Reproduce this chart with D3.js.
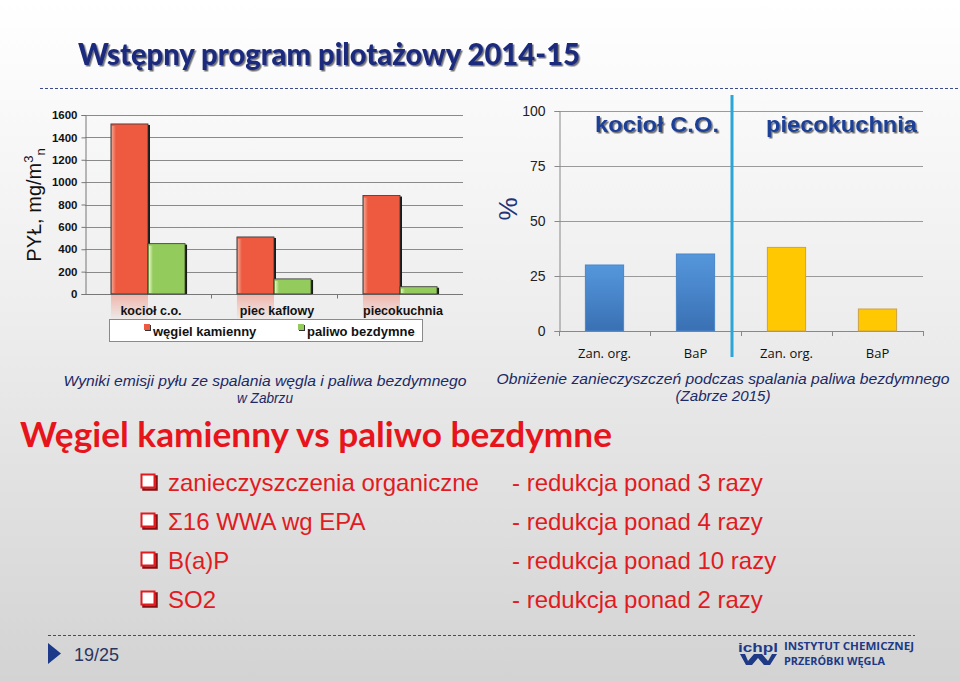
<!DOCTYPE html>
<html><head><meta charset="utf-8">
<script src="https://cdn.jsdelivr.net/npm/d3@7"></script>
<style>html,body{margin:0;padding:0;background:#fff}svg{display:block}</style>
</head><body>
<script>
// ---------- DATA ----------
const categoriesL = ["kocioł c.o.", "piec kaflowy", "piecokuchnia"];
const seriesL = ["węgiel kamienny", "paliwo bezdymne"];
const coalDust = [1520, 510, 880];
const smokelessDust = [450, 135, 65];
const ticksL = [0, 200, 400, 600, 800, 1000, 1200, 1400, 1600];

const categoriesR = ["Zan. org.", "BaP", "Zan. org.", "BaP"];
const groupsR = ["kocioł C.O.", "piecokuchnia"];
const reductionR = [30, 35, 38, 10];
const groupOfBarR = [0, 0, 1, 1];
const ticksR = [0, 25, 50, 75, 100];

const bulletItems = ["zanieczyszczenia organiczne", "Σ16 WWA wg EPA", "B(a)P", "SO2"];
const bulletResults = ["- redukcja ponad 3 razy", "- redukcja ponad 4 razy", "- redukcja ponad 10 razy", "- redukcja ponad 2 razy"];

// ---------- SVG ----------
const W = 960, H = 681;
const svg = d3.select("body").append("svg").attr("width", W).attr("height", H);
const defs = svg.append("defs");

const bg = defs.append("linearGradient").attr("id", "bg").attr("x1", 0).attr("y1", 0).attr("x2", 0).attr("y2", 1);
bg.append("stop").attr("offset", "0%").attr("stop-color", "#ffffff");
bg.append("stop").attr("offset", "45%").attr("stop-color", "#eeeeee");
bg.append("stop").attr("offset", "100%").attr("stop-color", "#d3d3d3");
svg.append("rect").attr("width", W).attr("height", H).attr("fill", "url(#bg)");

const shadow = defs.append("filter").attr("id", "shadow").attr("x", "-5%").attr("y", "-20%").attr("width", "115%").attr("height", "150%");
shadow.append("feDropShadow").attr("dx", 1.5).attr("dy", 1.5).attr("stdDeviation", 0.6)
  .attr("flood-color", "#000").attr("flood-opacity", 0.55);

const blueG = defs.append("linearGradient").attr("id", "blueG").attr("x1", 0).attr("y1", 0).attr("x2", 0).attr("y2", 1);
blueG.append("stop").attr("offset", "0%").attr("stop-color", "#5597dc");
blueG.append("stop").attr("offset", "100%").attr("stop-color", "#3a70b4");

const reflG = defs.append("linearGradient").attr("id", "reflG").attr("x1", 0).attr("y1", 0).attr("x2", 0).attr("y2", 1);
reflG.append("stop").attr("offset", "0%").attr("stop-color", "#f08a78").attr("stop-opacity", 0.55);
reflG.append("stop").attr("offset", "100%").attr("stop-color", "#f08a78").attr("stop-opacity", 0);

const redHi = defs.append("linearGradient").attr("id", "redHi").attr("x1", 0).attr("y1", 0).attr("x2", 1).attr("y2", 0);
redHi.append("stop").attr("offset", "0%").attr("stop-color", "#f4a08c");
redHi.append("stop").attr("offset", "100%").attr("stop-color", "#ee5a40");
const greenHi = defs.append("linearGradient").attr("id", "greenHi").attr("x1", 0).attr("y1", 0).attr("x2", 1).attr("y2", 0);
greenHi.append("stop").attr("offset", "0%").attr("stop-color", "#e4f5c0");
greenHi.append("stop").attr("offset", "100%").attr("stop-color", "#93cb5c");

const navy = "#1c2b7e";

// ---------- HEADER ----------
svg.append("text").attr("x", 78).attr("y", 65).attr("fill", navy).attr("filter", "url(#shadow)")
  .attr("font-family", "Lato, 'Open Sans', sans-serif").attr("font-weight", 900).attr("font-size", 30)
  .attr("textLength", 502).attr("lengthAdjust", "spacingAndGlyphs").text("Wstępny program pilotażowy 2014-15");
svg.append("line").attr("x1", 40).attr("x2", 960).attr("y1", 88.5).attr("y2", 88.5)
  .attr("stroke", "#3a4a8a").attr("stroke-width", 1).attr("stroke-dasharray", "3,2");

// ---------- LEFT CHART ----------
const yL = d3.scaleLinear().domain([0, 1600]).range([294, 115]);
const xL = d3.scaleBand().domain(categoriesL).range([85, 463]);
const xLin = d3.scaleBand().domain(seriesL).range([0, xL.bandwidth()]).paddingInner(0).paddingOuter(0.7);
const colL = { "węgiel kamienny": "#ee5a40", "paliwo bezdymne": "#93cb5c" };
const hiL = { "węgiel kamienny": "url(#redHi)", "paliwo bezdymne": "url(#greenHi)" };

const gL = svg.append("g");
gL.selectAll("line.grid").data(ticksL.slice(1)).join("line")
  .attr("x1", 85).attr("x2", 463).attr("y1", d => Math.round(yL(d)) + 0.5).attr("y2", d => Math.round(yL(d)) + 0.5)
  .attr("stroke", "#8a8a8a").attr("stroke-width", 1);
const axL = d3.axisLeft(yL).tickValues(ticksL).tickSize(4).tickFormat(d3.format("d"));
const gAxL = gL.append("g").attr("transform", "translate(85.5,0)").call(axL);
gAxL.select(".domain").attr("stroke", "#777");
gAxL.selectAll(".tick line").attr("stroke", "#777");
gAxL.selectAll("text").attr("font-family", "'Liberation Sans', Arial, sans-serif").attr("font-weight", "bold")
  .attr("font-size", 11.5).attr("fill", "#111").attr("dx", -1);
const gAxLx = gL.append("g").attr("transform", `translate(0,${yL(0) + 0.5})`);
gAxLx.append("line").attr("x1", 85).attr("x2", 463).attr("stroke", "#777");
gAxLx.selectAll("line.tk").data(categoriesL.slice(1)).join("line")
  .attr("x1", d => xL(d) + 0.5).attr("x2", d => xL(d) + 0.5).attr("y1", 0).attr("y2", 4).attr("stroke", "#777");

const dataL = categoriesL.map((c, i) => ({ c, vals: [{ s: seriesL[0], v: coalDust[i] }, { s: seriesL[1], v: smokelessDust[i] }] }));
gL.selectAll("rect.refl").data(dataL).join("rect")
  .attr("x", d => xL(d.c) + xLin(seriesL[0])).attr("y", yL(0) + 1)
  .attr("width", xLin.bandwidth()).attr("height", 26).attr("fill", "url(#reflG)");

const grpL = gL.selectAll("g.grp").data(dataL).join("g").attr("transform", d => `translate(${xL(d.c)},0)`);
const barL = grpL.selectAll("g.bar").data(d => d.vals).join("g");
barL.append("rect").attr("x", d => xLin(d.s) + 2).attr("y", d => yL(d.v) + 1)
  .attr("width", xLin.bandwidth()).attr("height", d => yL(0) - yL(d.v) - 1).attr("fill", "#1a1a1a");
barL.append("rect").attr("x", d => xLin(d.s)).attr("y", d => yL(d.v))
  .attr("width", xLin.bandwidth()).attr("height", d => yL(0) - yL(d.v))
  .attr("fill", d => colL[d.s]).attr("stroke", "#333").attr("stroke-width", 0.8);
barL.append("rect").attr("x", d => xLin(d.s) + 1).attr("y", d => yL(d.v) + 2)
  .attr("width", 4).attr("height", d => Math.max(0, yL(0) - yL(d.v) - 3)).attr("fill", d => hiL[d.s]);

gL.selectAll("text.cat").data(categoriesL).join("text")
  .attr("x", d => xL(d) + xL.bandwidth() / 2 + 3).attr("y", 315).attr("text-anchor", "middle")
  .attr("font-family", "'Liberation Sans', Arial, sans-serif").attr("font-weight", "bold").attr("font-size", 12.5)
  .attr("fill", "#111").text(d => d);

const yt = gL.append("text").attr("transform", "translate(41,205) rotate(-90)").attr("text-anchor", "middle")
  .attr("font-family", "'Liberation Sans', Arial, sans-serif").attr("font-size", 20).attr("fill", "#111");
yt.append("tspan").text("PYŁ, mg/m");
yt.append("tspan").attr("font-size", 13).attr("dy", -8).text("3");
yt.append("tspan").attr("font-size", 13).attr("dy", 12).text("n");

const leg = gL.append("g");
leg.append("rect").attr("x", 109.5).attr("y", 319.5).attr("width", 313).attr("height", 22)
  .attr("fill", "#fff").attr("stroke", "#8a8a8a").attr("stroke-width", 1);
const legX = [144, 298];
seriesL.forEach((s, i) => {
  leg.append("rect").attr("x", legX[i] + 1).attr("y", 325).attr("width", 6).attr("height", 6).attr("fill", "#333");
  leg.append("rect").attr("x", legX[i]).attr("y", 324).attr("width", 6).attr("height", 6).attr("fill", colL[s]);
  leg.append("text").attr("x", legX[i] + 9).attr("y", 336)
    .attr("font-family", "'Liberation Sans', Arial, sans-serif").attr("font-weight", "bold").attr("font-size", 13)
    .attr("fill", "#111").text(s);
});

const capL = ["Wyniki emisji pyłu ze spalania węgla i paliwa bezdymnego", "w  Zabrzu"];
const capLW = [403, 56];
svg.selectAll("text.capL").data(capL).join("text")
  .attr("x", 265).attr("y", (d, i) => 386 + i * 17).attr("text-anchor", "middle")
  .attr("font-family", "'Liberation Sans', Arial, sans-serif").attr("font-style", "italic").attr("font-size", 14.5)
  .attr("textLength", (d, i) => capLW[i]).attr("lengthAdjust", "spacingAndGlyphs")
  .attr("fill", "#1c2a66").text(d => d);

// ---------- RIGHT CHART ----------
const yR = d3.scaleLinear().domain([0, 100]).range([331, 111]);
const xR = d3.scaleBand().domain(d3.range(categoriesR.length)).range([559, 923]).paddingInner(0.58).paddingOuter(0.29);
const gR = svg.append("g");
gR.selectAll("line.grid").data(ticksR.slice(1)).join("line")
  .attr("x1", 559).attr("x2", 923).attr("y1", d => Math.round(yR(d)) + 0.5).attr("y2", d => Math.round(yR(d)) + 0.5)
  .attr("stroke", "#9a9a9a").attr("stroke-width", 1);
const axR = d3.axisLeft(yR).tickValues(ticksR).tickSize(5);
const gAxR = gR.append("g").attr("transform", "translate(559.5,0)").call(axR);
gAxR.select(".domain").attr("stroke", "#888");
gAxR.selectAll(".tick line").attr("stroke", "#888");
gAxR.selectAll("text").attr("font-family", "'Liberation Sans', Arial, sans-serif").attr("font-size", 14)
  .attr("fill", "#222").attr("dx", -6);
const stepR = xR.step();
const bndR = d3.range(categoriesR.length + 1).map(i => 559 + i * stepR);
gR.append("line").attr("x1", 559).attr("x2", 923).attr("y1", yR(0) + 0.5).attr("y2", yR(0) + 0.5).attr("stroke", "#888");
gR.selectAll("line.tk").data(bndR).join("line")
  .attr("x1", d => d + 0.5).attr("x2", d => d + 0.5).attr("y1", yR(0)).attr("y2", yR(0) + 5).attr("stroke", "#888");
gR.selectAll("rect.bar").data(reductionR).join("rect")
  .attr("x", (d, i) => xR(i)).attr("y", d => yR(d)).attr("width", xR.bandwidth()).attr("height", d => yR(0) - yR(d))
  .attr("fill", (d, i) => groupOfBarR[i] === 0 ? "url(#blueG)" : "#ffc800")
  .attr("stroke", (d, i) => groupOfBarR[i] === 0 ? "#4a86c8" : "#c9a24a").attr("stroke-width", 1);
gR.selectAll("text.cat").data(categoriesR).join("text")
  .attr("x", (d, i) => xR(i) + xR.bandwidth() / 2).attr("y", 358).attr("text-anchor", "middle")
  .attr("font-family", "'Open Sans', sans-serif").attr("font-size", 13).attr("fill", "#111").text(d => d);
gR.append("text").attr("transform", "translate(517,209) rotate(-90)").attr("text-anchor", "middle")
  .attr("font-family", "'Liberation Sans', Arial, sans-serif").attr("font-size", 26).attr("fill", "#1f3576").text("%");
const divX = 559 + 2 * stepR - 9;
gR.append("line").attr("x1", divX).attr("x2", divX).attr("y1", 95).attr("y2", 357)
  .attr("stroke", "#2ba6d6").attr("stroke-width", 3);
const grpLblX = [595, 766], grpLblW = [124, 151];
groupsR.forEach((g, i) => {
  gR.append("text").attr("x", grpLblX[i]).attr("y", 132).attr("fill", "#1d3f96").attr("filter", "url(#shadow)")
    .attr("font-family", "'Liberation Sans', Arial, sans-serif").attr("font-weight", "bold").attr("font-size", 22)
    .attr("textLength", grpLblW[i]).attr("lengthAdjust", "spacingAndGlyphs").text(g);
});
const capR = ["Obniżenie zanieczyszczeń podczas spalania paliwa bezdymnego", "(Zabrze 2015)"];
const capRW = [453, 95];
svg.selectAll("text.capR").data(capR).join("text")
  .attr("x", 723).attr("y", (d, i) => 384 + i * 17).attr("text-anchor", "middle")
  .attr("font-family", "'Liberation Sans', Arial, sans-serif").attr("font-style", "italic").attr("font-size", 14.5)
  .attr("textLength", (d, i) => capRW[i]).attr("lengthAdjust", "spacingAndGlyphs")
  .attr("fill", "#1c2a66").text(d => d);

// ---------- BOTTOM TEXT ----------
svg.append("text").attr("x", 20).attr("y", 447).attr("fill", "#e8141c")
  .attr("font-family", "Lato, 'Open Sans', sans-serif").attr("font-weight", "bold").attr("font-size", 34)
  .attr("textLength", 592).attr("lengthAdjust", "spacingAndGlyphs").text("Węgiel kamienny vs paliwo bezdymne");

const rowY = [491, 530, 569, 608];
bulletItems.forEach((t, i) => {
  svg.append("rect").attr("x", 142.5).attr("y", rowY[i] - 15.5).attr("width", 13).attr("height", 13)
    .attr("fill", "none").attr("stroke", "#8a0e10").attr("stroke-width", 2.5).attr("transform", "translate(1,1)");
  svg.append("rect").attr("x", 141.5).attr("y", rowY[i] - 16.5).attr("width", 13).attr("height", 13)
    .attr("fill", "#fff").attr("stroke", "#e11b1f").attr("stroke-width", 2);
  svg.append("text").attr("x", 168).attr("y", rowY[i]).attr("fill", "#e11b1f")
    .attr("font-family", "'Liberation Sans', Arial, sans-serif").attr("font-size", 24).text(t);
  svg.append("text").attr("x", 512).attr("y", rowY[i]).attr("fill", "#e11b1f")
    .attr("font-family", "'Liberation Sans', Arial, sans-serif").attr("font-size", 24).text(bulletResults[i]);
});

// ---------- FOOTER ----------
svg.append("line").attr("x1", 48).attr("x2", 915).attr("y1", 635.5).attr("y2", 635.5)
  .attr("stroke", "#3a4a8a").attr("stroke-width", 1).attr("stroke-dasharray", "3,2");
svg.append("path").attr("d", "M48,643 L61,653.5 L48,664 Z").attr("fill", "#1d3a8a");
svg.append("text").attr("x", 74).attr("y", 661).attr("fill", "#2a3560")
  .attr("font-family", "'Liberation Sans', Arial, sans-serif").attr("font-size", 18).text("19/25");
const lg = svg.append("g").attr("fill", "#1e3a86");
lg.append("text").attr("x", 738).attr("y", 652).attr("font-family", "'Liberation Sans', Arial, sans-serif")
  .attr("font-weight", "bold").attr("font-size", 12).attr("textLength", 40).attr("lengthAdjust", "spacingAndGlyphs").text("ichpl");
lg.append("path").attr("d", "M740,654 L746,665 L752,665 L758,658 L764,665 L770,665 L777,654 L772,654 L768,661 L762,654 L754,654 L748,661 L745,654 Z");
lg.append("text").attr("x", 784).attr("y", 650).attr("font-family", "'Open Sans', sans-serif")
  .attr("font-weight", "bold").attr("font-size", 10.5).attr("textLength", 130).attr("lengthAdjust", "spacingAndGlyphs").text("INSTYTUT CHEMICZNEJ");
lg.append("text").attr("x", 784).attr("y", 665).attr("font-family", "'Open Sans', sans-serif")
  .attr("font-weight", "bold").attr("font-size", 10.5).attr("textLength", 101).attr("lengthAdjust", "spacingAndGlyphs").text("PRZERÓBKI WĘGLA");
</script>
</body></html>
